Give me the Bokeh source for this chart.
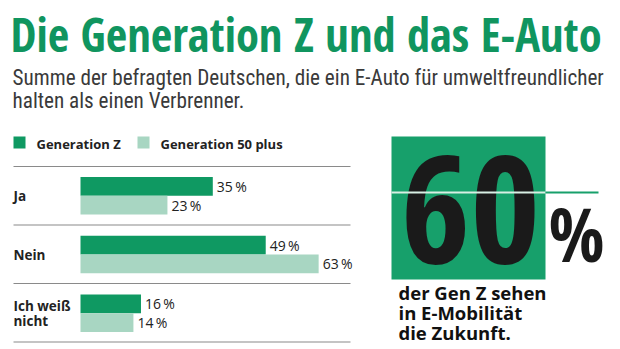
from bokeh.plotting import figure
from bokeh.models import Range1d
from bokeh.core.properties import value
from bokeh.embed import file_html
from bokeh.resources import INLINE

# ---- data ----
categories = ["Ja", "Nein", "Ich weiß\nnicht"]
gen_z = [35, 49, 16]
gen_50 = [23, 63, 14]
series_names = ["Generation Z", "Generation 50 plus"]
highlight_value = "60"
highlight_text = ["der Gen Z sehen", "in E-Mobilität", "die Zukunft."]
title = "Die Generation Z und das E-Auto"
subtitle = ["Summe der befragten Deutschen, die ein E-Auto für umweltfreundlicher",
            "halten als einen Verbrenner."]

DARK = "#0f9962"
LIGHT = "#a8d6c2"
BOX = "#17a06b"
TEXT = "#222222"
COND = value("Open Sans Condensed")
RCOND = value("Roboto Condensed")
SANS = value("Open Sans")

W, H = 620, 349
p = figure(width=W, height=H, x_range=Range1d(0, W), y_range=Range1d(H, 0),
           x_axis_type=None, y_axis_type=None, toolbar_location=None,
           output_backend="svg", min_border=0)
p.outline_line_color = None
p.grid.visible = False
p.background_fill_color = "white"

# extra ranges for the data: 0 % at px 80, 3.78 px per %
px_per = 3.78
p.extra_x_ranges = {"pct": Range1d(-80 / px_per, (W - 80) / px_per)}
pitch = 58.7
g0 = 195.3
p.extra_y_ranges = {"grp": Range1d((H - g0) / pitch, -g0 / pitch)}

# title & subtitle
p.text(x=[10], y=[33], text=[title], text_font=COND, text_font_size="46.5px",
       text_font_style="bold", text_color="#10955f", text_baseline="middle")
p.text(x=[12, 12], y=[77, 100], text=subtitle, text_font=RCOND,
       text_font_size="21.2px", text_color="#3a3a3a", text_baseline="middle")

# legend
p.rect(x=[19, 143], y=[142, 142], width=12, height=12, fill_color=[DARK, LIGHT],
       line_color=None)
p.text(x=[36, 160], y=[143, 143], text=series_names, text_font=SANS,
       text_font_size="13px", text_font_style="bold", text_color=TEXT,
       text_baseline="middle")

# separators
p.segment(x0=[13] * 4, x1=[350] * 4, y0=[166, 224.5, 283, 341.5],
          y1=[166, 224.5, 283, 341.5], line_color="#8a8a8a", line_width=1.2)

# bars
idx = list(range(len(categories)))
hh = 9.4 / pitch
yz = [i - hh for i in idx]
y5 = [i + hh for i in idx]
p.hbar(y=yz, left=0, right=gen_z, height=2 * hh, fill_color=DARK, line_color=None,
       x_range_name="pct", y_range_name="grp")
p.hbar(y=y5, left=0, right=gen_50, height=2 * hh, fill_color=LIGHT, line_color=None,
       x_range_name="pct", y_range_name="grp")
p.text(x=gen_z, y=yz, text=[f"{v}\u2009%" for v in gen_z], x_offset=4,
       text_font=SANS, text_font_size="14px", text_color=TEXT,
       text_baseline="middle", x_range_name="pct", y_range_name="grp")
p.text(x=gen_50, y=y5, text=[f"{v}\u2009%" for v in gen_50], x_offset=4,
       text_font=SANS, text_font_size="14px", text_color=TEXT,
       text_baseline="middle", x_range_name="pct", y_range_name="grp")

# category labels
p.text(x=[-80 / px_per] * 3, y=idx, text=categories, x_offset=13,
       text_font=SANS, text_font_size="13.5px", text_font_style="bold",
       text_color=TEXT, text_baseline="middle", text_line_height=0.84,
       x_range_name="pct", y_range_name="grp")

# highlight box
p.quad(left=[391], right=[545], top=[136], bottom=[279], fill_color=BOX, line_color=None)
p.text(x=[470], y=[210], text=[highlight_value], text_font=COND,
       text_font_size="150px", text_font_style="bold", text_color="#1a1a1a",
       text_align="center", text_baseline="middle")
p.segment(x0=[391], x1=[545], y0=[192], y1=[192], line_color="#d8efe4", line_width=2)
p.segment(x0=[545], x1=[598], y0=[192], y1=[192], line_color=BOX, line_width=2)
p.text(x=[576], y=[233], text=["%"], text_font=COND, text_font_size="74px",
       text_color="#1a1a1a", text_align="center", text_baseline="middle")
p.text(x=[398] * 3, y=[292, 312, 331.5], text=highlight_text, text_font=SANS,
       text_font_size="18.5px", text_font_style="bold", text_color="#111111",
       text_baseline="middle")

open("out.html", "w").write(file_html(p, INLINE))
